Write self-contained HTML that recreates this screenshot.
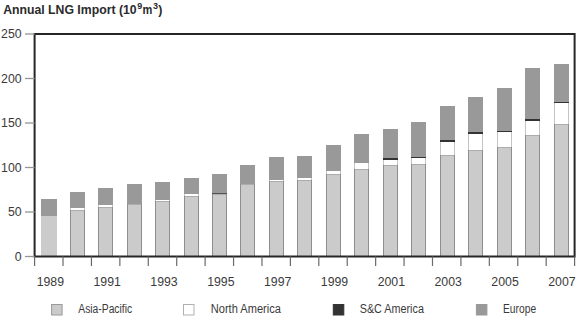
<!DOCTYPE html><html><head><meta charset="utf-8"><style>html,body{margin:0;padding:0;background:#fff;width:580px;height:323px;overflow:hidden}svg{display:block}text{font-family:"Liberation Sans",sans-serif}</style></head><body>
<svg width="580" height="323" viewBox="0 0 580 323">
<text x="3.2" y="14" font-size="12.3" font-weight="bold" fill="#2b2b2b" textLength="133.4" lengthAdjust="spacingAndGlyphs">Annual LNG Import (10</text>
<text x="137.2" y="8.8" font-size="9" font-weight="bold" fill="#2b2b2b">9</text>
<text x="142.6" y="14" font-size="12.3" font-weight="bold" fill="#2b2b2b" textLength="9.8" lengthAdjust="spacingAndGlyphs">m</text>
<text x="153" y="8.8" font-size="9" font-weight="bold" fill="#2b2b2b">3</text>
<text x="158.2" y="14" font-size="12.3" font-weight="bold" fill="#2b2b2b">)</text>
<rect x="41" y="216.00" width="16" height="40.50" fill="#cbcbcb"/>
<rect x="41" y="199.00" width="16" height="17.00" fill="#999999"/>
<rect x="70.50" y="210.00" width="14" height="46.50" fill="#cbcbcb" stroke="#8e8e8e" stroke-width="1"/>
<rect x="70.00" y="208.00" width="15" height="2.00" fill="#c4c4c4"/>
<rect x="71.00" y="208.00" width="13" height="2.00" fill="#ffffff"/>
<rect x="70.00" y="192.00" width="15" height="16.00" fill="#999999"/>
<rect x="98.50" y="207.00" width="14" height="49.50" fill="#cbcbcb" stroke="#8e8e8e" stroke-width="1"/>
<rect x="98.00" y="205.00" width="15" height="2.00" fill="#c4c4c4"/>
<rect x="99.00" y="205.00" width="13" height="2.00" fill="#ffffff"/>
<rect x="98.00" y="188.00" width="15" height="17.00" fill="#999999"/>
<rect x="127.50" y="204.00" width="14" height="52.50" fill="#cbcbcb" stroke="#8e8e8e" stroke-width="1"/>
<rect x="127.00" y="184.00" width="15" height="20.00" fill="#999999"/>
<rect x="155.50" y="201.00" width="14" height="55.50" fill="#cbcbcb" stroke="#8e8e8e" stroke-width="1"/>
<rect x="155.00" y="200.00" width="15" height="1.00" fill="#c4c4c4"/>
<rect x="156.00" y="200.00" width="13" height="1.00" fill="#ffffff"/>
<rect x="155.00" y="182.00" width="15" height="18.00" fill="#999999"/>
<rect x="184.50" y="196.00" width="14" height="60.50" fill="#cbcbcb" stroke="#8e8e8e" stroke-width="1"/>
<rect x="184.00" y="194.00" width="15" height="2.00" fill="#c4c4c4"/>
<rect x="185.00" y="194.00" width="13" height="2.00" fill="#ffffff"/>
<rect x="184.00" y="178.00" width="15" height="16.00" fill="#999999"/>
<rect x="212.50" y="194.00" width="14" height="62.50" fill="#cbcbcb" stroke="#8e8e8e" stroke-width="1"/>
<rect x="212.00" y="193.00" width="15" height="1.00" fill="#555555"/>
<rect x="212.00" y="174.00" width="15" height="19.00" fill="#999999"/>
<rect x="240.50" y="184.00" width="14" height="72.50" fill="#cbcbcb" stroke="#8e8e8e" stroke-width="1"/>
<rect x="240.00" y="165.00" width="15" height="19.00" fill="#999999"/>
<rect x="269.50" y="181.00" width="14" height="75.50" fill="#cbcbcb" stroke="#8e8e8e" stroke-width="1"/>
<rect x="269.00" y="180.00" width="15" height="1.00" fill="#c4c4c4"/>
<rect x="270.00" y="180.00" width="13" height="1.00" fill="#ffffff"/>
<rect x="269.00" y="157.00" width="15" height="23.00" fill="#999999"/>
<rect x="297.50" y="180.00" width="14" height="76.50" fill="#cbcbcb" stroke="#8e8e8e" stroke-width="1"/>
<rect x="297.00" y="178.00" width="15" height="2.00" fill="#c4c4c4"/>
<rect x="298.00" y="178.00" width="13" height="2.00" fill="#ffffff"/>
<rect x="297.00" y="156.00" width="15" height="22.00" fill="#999999"/>
<rect x="326.50" y="174.00" width="14" height="82.50" fill="#cbcbcb" stroke="#8e8e8e" stroke-width="1"/>
<rect x="326.00" y="171.00" width="15" height="3.00" fill="#c4c4c4"/>
<rect x="327.00" y="171.00" width="13" height="3.00" fill="#ffffff"/>
<rect x="326.00" y="145.00" width="15" height="26.00" fill="#999999"/>
<rect x="354.50" y="169.00" width="14" height="87.50" fill="#cbcbcb" stroke="#8e8e8e" stroke-width="1"/>
<rect x="354.00" y="163.00" width="15" height="6.00" fill="#c4c4c4"/>
<rect x="355.00" y="163.00" width="13" height="6.00" fill="#ffffff"/>
<rect x="354.00" y="134.00" width="15" height="29.00" fill="#999999"/>
<rect x="383.50" y="165.00" width="14" height="91.50" fill="#cbcbcb" stroke="#8e8e8e" stroke-width="1"/>
<rect x="383.00" y="160.00" width="15" height="5.00" fill="#c4c4c4"/>
<rect x="384.00" y="160.00" width="13" height="5.00" fill="#ffffff"/>
<rect x="383.00" y="158.00" width="15" height="2.00" fill="#333333"/>
<rect x="383.00" y="129.00" width="15" height="29.00" fill="#999999"/>
<rect x="411.50" y="164.00" width="14" height="92.50" fill="#cbcbcb" stroke="#8e8e8e" stroke-width="1"/>
<rect x="411.00" y="158.00" width="15" height="6.00" fill="#c4c4c4"/>
<rect x="412.00" y="158.00" width="13" height="6.00" fill="#ffffff"/>
<rect x="411.00" y="157.00" width="15" height="1.00" fill="#333333"/>
<rect x="411.00" y="122.00" width="15" height="35.00" fill="#999999"/>
<rect x="440.50" y="155.00" width="14" height="101.50" fill="#cbcbcb" stroke="#8e8e8e" stroke-width="1"/>
<rect x="440.00" y="142.00" width="15" height="13.00" fill="#c4c4c4"/>
<rect x="441.00" y="142.00" width="13" height="13.00" fill="#ffffff"/>
<rect x="440.00" y="140.00" width="15" height="2.00" fill="#333333"/>
<rect x="440.00" y="106.00" width="15" height="34.00" fill="#999999"/>
<rect x="468.50" y="150.00" width="14" height="106.50" fill="#cbcbcb" stroke="#8e8e8e" stroke-width="1"/>
<rect x="468.00" y="134.00" width="15" height="16.00" fill="#c4c4c4"/>
<rect x="469.00" y="134.00" width="13" height="16.00" fill="#ffffff"/>
<rect x="468.00" y="132.00" width="15" height="2.00" fill="#333333"/>
<rect x="468.00" y="97.00" width="15" height="35.00" fill="#999999"/>
<rect x="497.50" y="147.00" width="14" height="109.50" fill="#cbcbcb" stroke="#8e8e8e" stroke-width="1"/>
<rect x="497.00" y="132.00" width="15" height="15.00" fill="#c4c4c4"/>
<rect x="498.00" y="132.00" width="13" height="15.00" fill="#ffffff"/>
<rect x="497.00" y="131.00" width="15" height="1.00" fill="#333333"/>
<rect x="497.00" y="88.00" width="15" height="43.00" fill="#999999"/>
<rect x="525.50" y="135.00" width="14" height="121.50" fill="#cbcbcb" stroke="#8e8e8e" stroke-width="1"/>
<rect x="525.00" y="121.00" width="15" height="14.00" fill="#c4c4c4"/>
<rect x="526.00" y="121.00" width="13" height="14.00" fill="#ffffff"/>
<rect x="525.00" y="119.00" width="15" height="2.00" fill="#333333"/>
<rect x="525.00" y="68.00" width="15" height="51.00" fill="#999999"/>
<rect x="554.50" y="124.00" width="14" height="132.50" fill="#cbcbcb" stroke="#8e8e8e" stroke-width="1"/>
<rect x="554.00" y="103.00" width="15" height="21.00" fill="#c4c4c4"/>
<rect x="555.00" y="103.00" width="13" height="21.00" fill="#ffffff"/>
<rect x="554.00" y="102.00" width="15" height="1.00" fill="#333333"/>
<rect x="554.00" y="64.00" width="15" height="38.00" fill="#999999"/>
<rect x="34.6" y="34" width="540.0" height="222.5" fill="none" stroke="#262626" stroke-width="2"/>
<line x1="25" y1="256.50" x2="34.6" y2="256.50" stroke="#959595" stroke-width="1.3"/>
<text x="21.6" y="260.80" font-size="12.3" fill="#3a3a3a" text-anchor="end">0</text>
<line x1="25" y1="212.00" x2="34.6" y2="212.00" stroke="#959595" stroke-width="1.3"/>
<text x="21.6" y="216.30" font-size="12.3" fill="#3a3a3a" text-anchor="end">50</text>
<line x1="25" y1="167.50" x2="34.6" y2="167.50" stroke="#959595" stroke-width="1.3"/>
<text x="21.6" y="171.80" font-size="12.3" fill="#3a3a3a" text-anchor="end">100</text>
<line x1="25" y1="123.00" x2="34.6" y2="123.00" stroke="#959595" stroke-width="1.3"/>
<text x="21.6" y="127.30" font-size="12.3" fill="#3a3a3a" text-anchor="end">150</text>
<line x1="25" y1="78.50" x2="34.6" y2="78.50" stroke="#959595" stroke-width="1.3"/>
<text x="21.6" y="82.80" font-size="12.3" fill="#3a3a3a" text-anchor="end">200</text>
<line x1="25" y1="34.00" x2="34.6" y2="34.00" stroke="#959595" stroke-width="1.3"/>
<text x="21.6" y="38.30" font-size="12.3" fill="#3a3a3a" text-anchor="end">250</text>
<line x1="34.60" y1="256.5" x2="34.60" y2="266" stroke="#6a6a6a" stroke-width="1.2"/>
<line x1="63.02" y1="256.5" x2="63.02" y2="266" stroke="#6a6a6a" stroke-width="1.2"/>
<line x1="91.44" y1="256.5" x2="91.44" y2="266" stroke="#6a6a6a" stroke-width="1.2"/>
<line x1="119.86" y1="256.5" x2="119.86" y2="266" stroke="#6a6a6a" stroke-width="1.2"/>
<line x1="148.28" y1="256.5" x2="148.28" y2="266" stroke="#6a6a6a" stroke-width="1.2"/>
<line x1="176.71" y1="256.5" x2="176.71" y2="266" stroke="#6a6a6a" stroke-width="1.2"/>
<line x1="205.13" y1="256.5" x2="205.13" y2="266" stroke="#6a6a6a" stroke-width="1.2"/>
<line x1="233.55" y1="256.5" x2="233.55" y2="266" stroke="#6a6a6a" stroke-width="1.2"/>
<line x1="261.97" y1="256.5" x2="261.97" y2="266" stroke="#6a6a6a" stroke-width="1.2"/>
<line x1="290.39" y1="256.5" x2="290.39" y2="266" stroke="#6a6a6a" stroke-width="1.2"/>
<line x1="318.81" y1="256.5" x2="318.81" y2="266" stroke="#6a6a6a" stroke-width="1.2"/>
<line x1="347.23" y1="256.5" x2="347.23" y2="266" stroke="#6a6a6a" stroke-width="1.2"/>
<line x1="375.65" y1="256.5" x2="375.65" y2="266" stroke="#6a6a6a" stroke-width="1.2"/>
<line x1="404.07" y1="256.5" x2="404.07" y2="266" stroke="#6a6a6a" stroke-width="1.2"/>
<line x1="432.49" y1="256.5" x2="432.49" y2="266" stroke="#6a6a6a" stroke-width="1.2"/>
<line x1="460.92" y1="256.5" x2="460.92" y2="266" stroke="#6a6a6a" stroke-width="1.2"/>
<line x1="489.34" y1="256.5" x2="489.34" y2="266" stroke="#6a6a6a" stroke-width="1.2"/>
<line x1="517.76" y1="256.5" x2="517.76" y2="266" stroke="#6a6a6a" stroke-width="1.2"/>
<line x1="546.18" y1="256.5" x2="546.18" y2="266" stroke="#6a6a6a" stroke-width="1.2"/>
<line x1="574.60" y1="256.5" x2="574.60" y2="266" stroke="#6a6a6a" stroke-width="1.2"/>
<text x="50.31" y="286" font-size="12.3" fill="#3a3a3a" text-anchor="middle">1989</text>
<text x="107.15" y="286" font-size="12.3" fill="#3a3a3a" text-anchor="middle">1991</text>
<text x="163.99" y="286" font-size="12.3" fill="#3a3a3a" text-anchor="middle">1993</text>
<text x="220.84" y="286" font-size="12.3" fill="#3a3a3a" text-anchor="middle">1995</text>
<text x="277.68" y="286" font-size="12.3" fill="#3a3a3a" text-anchor="middle">1997</text>
<text x="334.52" y="286" font-size="12.3" fill="#3a3a3a" text-anchor="middle">1999</text>
<text x="391.36" y="286" font-size="12.3" fill="#3a3a3a" text-anchor="middle">2001</text>
<text x="448.21" y="286" font-size="12.3" fill="#3a3a3a" text-anchor="middle">2003</text>
<text x="505.05" y="286" font-size="12.3" fill="#3a3a3a" text-anchor="middle">2005</text>
<text x="561.89" y="286" font-size="12.3" fill="#3a3a3a" text-anchor="middle">2007</text>
<rect x="51.60" y="304.5" width="10.5" height="10.5" fill="#cbcbcb" stroke="#9a9a9a" stroke-width="1"/>
<text x="78.30" y="313.4" font-size="12" fill="#3a3a3a" textLength="53.8" lengthAdjust="spacingAndGlyphs">Asia-Pacific</text>
<rect x="183.50" y="304.5" width="10.5" height="10.5" fill="#ffffff" stroke="#b0b0b0" stroke-width="1"/>
<text x="210.80" y="313.4" font-size="12" fill="#3a3a3a" textLength="70.1" lengthAdjust="spacingAndGlyphs">North America</text>
<rect x="333.30" y="304.5" width="10.5" height="10.5" fill="#333333" stroke="#333333" stroke-width="1"/>
<text x="359.70" y="313.4" font-size="12" fill="#3a3a3a" textLength="64.2" lengthAdjust="spacingAndGlyphs">S&amp;C America</text>
<rect x="476.40" y="304.5" width="10.5" height="10.5" fill="#999999" stroke="#999999" stroke-width="1"/>
<text x="503.00" y="313.4" font-size="12" fill="#3a3a3a" textLength="33.1" lengthAdjust="spacingAndGlyphs">Europe</text>
</svg></body></html>
